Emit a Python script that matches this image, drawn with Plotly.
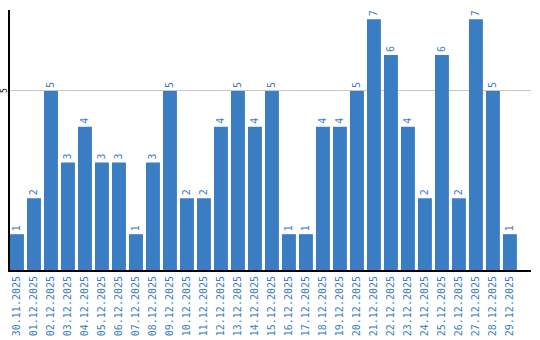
import plotly.graph_objects as go

dates = ["30.11.2025", "01.12.2025", "02.12.2025", "03.12.2025", "04.12.2025", "05.12.2025",
         "06.12.2025", "07.12.2025", "08.12.2025", "09.12.2025", "10.12.2025", "11.12.2025",
         "12.12.2025", "13.12.2025", "14.12.2025", "15.12.2025", "16.12.2025", "17.12.2025",
         "18.12.2025", "19.12.2025", "20.12.2025", "21.12.2025", "22.12.2025", "23.12.2025",
         "24.12.2025", "25.12.2025", "26.12.2025", "27.12.2025", "28.12.2025", "29.12.2025"]
values = [1, 2, 5, 3, 4, 3, 3, 1, 3, 5, 2, 2, 4, 5, 4, 5, 1, 1, 4, 4, 5, 7, 6, 4, 2, 6, 2, 7, 5, 1]
y_ticks = [5]

blue = "#3b7dc2"

fig = go.Figure(go.Bar(
    x=dates, y=values, marker_color=blue, marker_line_width=0,
    text=[str(v) for v in values], textposition="outside", textangle=-90,
    textfont=dict(family="DejaVu Sans Mono", size=10, color=blue),
    cliponaxis=False,
))
for t in y_ticks:
    fig.add_annotation(x=0, xref="paper", xanchor="center", xshift=-5, y=t, yref="y",
                       text=str(t), textangle=-90, showarrow=False, borderpad=0,
                       font=dict(family="DejaVu Sans Mono", size=8, color="black"))
fig.update_layout(
    width=540, height=340, margin=dict(l=10, r=9, t=10, b=70),
    paper_bgcolor="white", plot_bgcolor="white", bargap=0.18,
    showlegend=False,
    xaxis=dict(type="category", range=[-0.41, 30.24], tickangle=-90, showline=True,
               linecolor="black", linewidth=2,
               tickfont=dict(family="DejaVu Sans Mono", size=10, color=blue), ticks="",
               showgrid=False, automargin=False),
    yaxis=dict(range=[0, 7.26], tickvals=y_ticks, showticklabels=False, showline=True,
               linecolor="black", linewidth=2,
               gridcolor="#c8c8c8", gridwidth=1, zeroline=False, ticks="",
               automargin=False),
)
fig.write_html("out.html")
